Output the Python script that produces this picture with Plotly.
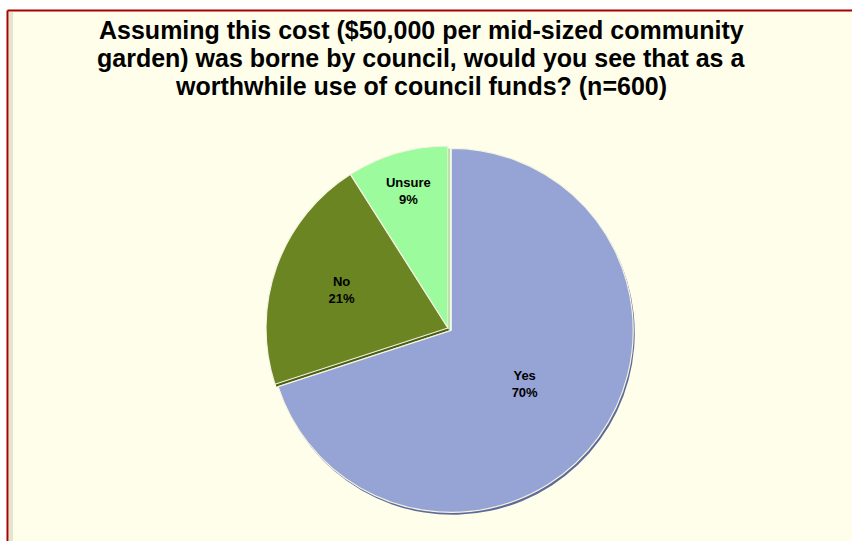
import plotly.graph_objects as go

# Survey answers (share of respondents, n=600)
answers = ["Yes", "No", "Unsure"]
shares = [70, 21, 9]
slice_colors = ["#95A3D5", "#6B8523", "#9CFB9C"]
rim_colors = ["#5E6A99", "#4A5E14", "#6CC06C"]

title_lines = [
    "Assuming this cost ($50,000 per mid-sized community",
    "garden) was borne by council, would you see that as a",
    "worthwhile use of council funds? (n=600)",
]

W, H = 852, 541
FONT = "Liberation Sans, Arial, sans-serif"
DOM_X = [262, 634]
DOM_Y = [27, 399]


def pie(colors, dx=0, dy=0, with_text=True):
    return go.Pie(
        labels=answers,
        values=shares,
        sort=False,
        direction="clockwise",
        rotation=0,
        pull=[0.022, 0, 0],
        marker=dict(
            colors=colors,
            line=dict(color="#F4F4E0" if with_text else "rgba(0,0,0,0)", width=1.2),
        ),
        texttemplate="<b>%{label}<br>%{value}%</b>" if with_text else "",
        textinfo=None if with_text else "none",
        textposition="inside",
        insidetextorientation="horizontal",
        textfont=dict(family=FONT, size=13, color="#000000"),
        showlegend=False,
        hoverinfo="label+percent" if with_text else "skip",
        domain=dict(
            x=[(DOM_X[0] + dx) / W, (DOM_X[1] + dx) / W],
            y=[(DOM_Y[0] - dy) / H, (DOM_Y[1] - dy) / H],
        ),
    )


fig = go.Figure()
# darker rim beneath the slices gives the bevelled edge
fig.add_trace(pie(rim_colors, dx=1.5, dy=2.5, with_text=False))
fig.add_trace(pie(slice_colors))

# cream chart area with a dark red rule along the top and left
fig.add_shape(
    type="rect", xref="paper", yref="paper",
    x0=7.5 / W, x1=1.0, y0=0.0, y1=1 - 10.5 / H,
    fillcolor="#FEFEEA", line=dict(width=0), layer="below",
)
fig.add_shape(
    type="rect", xref="paper", yref="paper",
    x0=9 / W, x1=13 / W, y0=0.0, y1=1 - 12 / H,
    fillcolor="#E2E6CE", line=dict(width=0), layer="below",
)
fig.add_shape(
    type="line", xref="paper", yref="paper",
    x0=7.5 / W, x1=1.0, y0=1 - 10.5 / H, y1=1 - 10.5 / H,
    line=dict(color="#A80000", width=2), layer="below",
)
fig.add_shape(
    type="line", xref="paper", yref="paper",
    x0=7.5 / W, x1=7.5 / W, y0=0.0, y1=1 - 10.5 / H,
    line=dict(color="#A80000", width=2), layer="below",
)

# three-line bold title, one line per annotation for tight line spacing
for i, line in enumerate(title_lines):
    fig.add_annotation(
        text="<b>" + line + "</b>",
        xref="paper", yref="paper",
        x=421 / W, y=1 - (30 + 28 * i) / H,
        xanchor="center", yanchor="middle",
        showarrow=False,
        font=dict(family=FONT, size=25, color="#000000"),
    )

fig.update_layout(
    width=W, height=H,
    margin=dict(l=0, r=0, t=0, b=0),
    paper_bgcolor="#FFFFFF",
    plot_bgcolor="#FFFFFF",
)

fig.write_html("out.html")
